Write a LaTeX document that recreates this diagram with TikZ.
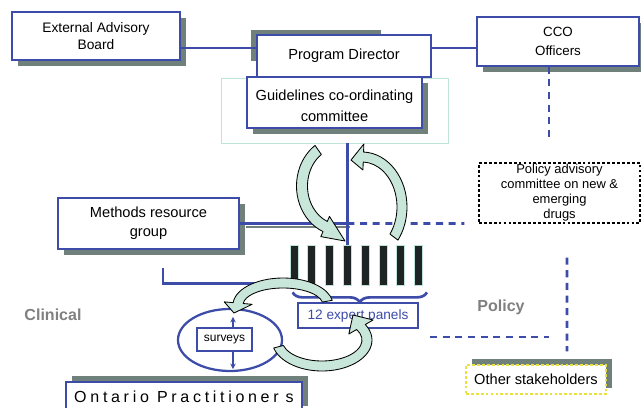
\documentclass[tikz,border=0pt]{standalone}
\usepackage{fontspec}
\setmainfont{Liberation Sans}
\usepackage{tikz}
\usetikzlibrary{arrows.meta,positioning,shapes.geometric,calc,shadows}
\usetikzlibrary{decorations.pathreplacing}
\usepackage{xcolor}

\definecolor{lineblue}{RGB}{60,76,168}
\definecolor{shadowgray}{RGB}{112,128,122}
\definecolor{curlfill}{RGB}{200,230,218}
\definecolor{tealline}{RGB}{190,228,218}
\definecolor{labelgray}{RGB}{128,128,128}
\definecolor{yellowdash}{RGB}{235,225,60}
\definecolor{barblack}{RGB}{30,36,36}

% curved block arrow: centre, x radius, y radius, start angle, end angle, tip, half width, head half width
\newcommand{\curlarrow}[8]{%
  \pgfmathsetmacro{\rxi}{#2-#7}\pgfmathsetmacro{\ryi}{#3-#7}%
  \pgfmathsetmacro{\rxo}{#2+#7}\pgfmathsetmacro{\ryo}{#3+#7}%
  \pgfmathsetmacro{\rxh}{#2-#8}\pgfmathsetmacro{\ryh}{#3-#8}%
  \pgfmathsetmacro{\rxH}{#2+#8}\pgfmathsetmacro{\ryH}{#3+#8}%
  \filldraw[curl] ($(#1)+(#4:{\rxi} and {\ryi})$)
    arc[start angle=#4, end angle=#5, x radius=\rxi, y radius=\ryi]
    -- ($(#1)+(#5:{\rxh} and {\ryh})$) -- (#6)
    -- ($(#1)+(#5:{\rxH} and {\ryH})$) -- ($(#1)+(#5:{\rxo} and {\ryo})$)
    arc[start angle=#5, end angle=#4, x radius=\rxo, y radius=\ryo] -- cycle;}

\begin{document}
\begin{tikzpicture}[x=0.025cm, y=-0.025cm,
        every node/.style={align=center, inner sep=1pt},
        box/.style={draw=lineblue, line width=0.9pt, fill=white},
        sdw/.style={drop shadow={shadow xshift=0.15cm, shadow yshift=-0.15cm, fill=shadowgray, opacity=1}},
        sdwup/.style={drop shadow={shadow xshift=0.15cm, shadow yshift=0.15cm, fill=shadowgray, opacity=1}},
        link/.style={draw=lineblue, line width=1.9pt},
        dashlink/.style={draw=lineblue, line width=1.9pt, dash pattern=on 5pt off 4pt},
        bar/.style={fill=barblack, draw=tealline, line width=0.5pt, minimum width=0.2cm, minimum height=1cm, inner sep=0pt},
        curl/.style={fill=curlfill, draw=black, line width=0.6pt, line join=round},
        smallarrow/.style={draw=lineblue, line width=1.1pt, -{Stealth[length=4pt, width=4pt]}},
        lbl/.style={text=labelgray, font=\fontsize{11.4}{13}\selectfont\bfseries}
    ]
    \useasboundingbox (0,0) rectangle (641,408);

    \node[draw=tealline, line width=0.6pt, minimum width=5.675cm, minimum height=1.625cm] (frame) at (334.5,110.5) {};

    \fill[shadowgray] (251,30) rectangle (381,61);
    \node[box, minimum width=4.35cm, minimum height=1.05cm, font=\fontsize{10.4}{12}\selectfont] (pd) at (344,56) {Program Director};
    \node[box, sdw, minimum width=4.375cm, minimum height=1.275cm, font=\fontsize{10.4}{14.7}\selectfont] (guide) at (334.5,102.5) {\rule{0pt}{11.8pt}Guidelines co-ordinating\\committee};
    \node[box, sdw, minimum width=4.2cm, minimum height=1.2cm, font=\fontsize{9.8}{12}\selectfont] (eab) at (96,36) {External Advisory\\Board};
    \node[box, sdw, minimum width=4.05cm, minimum height=1.225cm, font=\fontsize{9.5}{13.5}\selectfont] (cco) at (558,41.5) {CCO\\Officers};

    \coordinate (toprow) at (0,48);
    \draw[link] (eab.east |- toprow) -- (pd.west |- toprow);
    \draw[link] (pd.east |- toprow) -- (cco.west |- toprow);

    \coordinate (ccoend) at (549,142);
    \draw[dashlink] (cco.south -| ccoend) -- (ccoend);

    \node[draw=black, dash pattern=on 2pt off 1.5pt, line width=0.8pt, minimum width=4.025cm, minimum height=1.5cm, font=\fontsize{9.2}{10.7}\selectfont] (pac) at (559.5,193) {Policy advisory\\committee on new \&\\emerging\\drugs};

    % expert panels
    \foreach \i in {1,...,8}
        \node[bar] (bar\i) at ({294+17.8*(\i-1)},265) {};

    \node[box, sdw, minimum width=4.525cm, minimum height=1.275cm, font=\fontsize{10.4}{13.5}\selectfont] (mrg) at (148.5,223.5) {Methods resource\\group};
    \draw[shadowgray, line width=1.5pt] ($(mrg.east)+(6,3.5)$) -- ($(mrg.east -| bar4.north)+(3,3.5)$);
    \draw[link] (mrg.east) -- (mrg.east -| bar4.north);
    \draw[dashlink] (mrg.east -| bar4.north) -- ($(pac.south west)+(-14,0)$);
    \draw[link] (frame.south -| bar4.north) -- (bar4.north);

    \draw[lineblue, line width=1.9pt, decorate, decoration={brace, mirror, amplitude=0.25cm}] ($(bar1.south west)+(3,7)$) -- ($(bar8.south east)+(4,7)$);
    \node[draw=lineblue, line width=0.9pt, fill=white, text=lineblue, minimum width=3cm, minimum height=0.625cm, font=\fontsize{9.7}{11}\selectfont] (panels) at (358,315.5) {12 expert panels};

    \coordinate (lstart) at (163,268);
    \draw[link] (lstart) |- ($(bar1.south west)+(0,-2)$);

    % clinical side
    \node[ellipse, draw=lineblue, line width=1.6pt, minimum width=2.6cm, minimum height=1.55cm, inner sep=0pt] (loop) at (230,340) {};
    \node[draw=lineblue, line width=0.9pt, fill=white, minimum width=1.375cm, minimum height=0.575cm, font=\fontsize{8.5}{10}\selectfont] (surveys) at (224.5,339.5) {surveys};
    \draw[smallarrow] ($(surveys.north)+(8.5,0)$) -- ($(loop.north)+(3,9)$);
    \draw[smallarrow] ($(surveys.south)+(8.5,0)$) -- ($(loop.south)+(3,-3)$);

    \node[box, sdwup, minimum width=5.9cm, minimum height=0.75cm, font=\fontsize{11.4}{13}\selectfont\addfontfeatures{LetterSpace=23}] (ontario) at (184,397) {Ontario Practitioner\kern5pt s};
    \node[draw=yellowdash, dash pattern=on 2pt off 1.5pt, line width=0.9pt, fill=white, sdwup, minimum width=3.5cm, minimum height=0.725cm, font=\fontsize{10.4}{12}\selectfont] (other) at (536,379.5) {Other stakeholders};

    % policy side
    \draw[dashlink] ($(pac.south)+(7.5,34)$) -- ($(other.north)+(31,-13)$);
    \coordinate (pl1) at (430,337);
    \coordinate (pl2) at (549,337);
    \draw[dashlink] (pl1) -- (pl2);

    \node[lbl] (clin) at (53,315) {Clinical};
    \node[lbl] (pol) at (501,307) {Policy};

    % cycling arrows
    \curlarrow{340,186}{38}{44}{235}{113}{345,241}{5.5}{11}
    \curlarrow{362,207}{40}{50}{37}{-88}{351,160}{5}{13}
    \curlarrow{283,305}{45}{22}{-10}{-175}{234,313}{5}{14}
    \curlarrow{322,340}{45}{26}{165}{-30}{353,315}{5}{14}
\end{tikzpicture}
\end{document}
